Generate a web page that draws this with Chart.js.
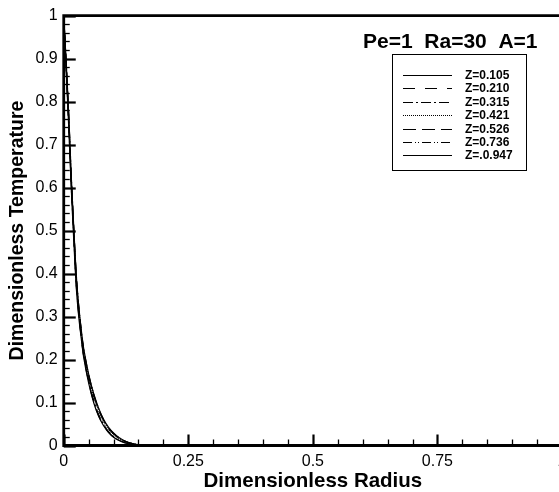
<!DOCTYPE html>
<html>
<head>
<meta charset="utf-8">
<script src="https://cdn.jsdelivr.net/npm/chart.js@4"></script>
<style>
  html, body { margin: 0; padding: 0; background: #fff; overflow: hidden; }
  #wrap { width: 580px; height: 492px; }
</style>
</head>
<body>
<div id="wrap"><canvas id="tempChart"></canvas></div>
<script>
// radius values (x) shared by every curve
const radius = [0, 0.005, 0.01, 0.015, 0.02, 0.025, 0.03, 0.035, 0.04, 0.05, 0.06, 0.07, 0.08, 0.09, 0.10, 0.11, 0.12, 0.13, 0.14, 0.15, 0.16, 0.2, 0.3, 0.4, 0.5, 0.6, 0.7, 0.8, 0.9, 1.0];

// temperature for each Z
const z0105 = [1, 0.87, 0.74, 0.60, 0.48, 0.37, 0.30, 0.25, 0.205, 0.145, 0.100, 0.068, 0.046, 0.030, 0.019, 0.012, 0.007, 0.004, 0.002, 0.001, 0, 0, 0, 0, 0, 0, 0, 0, 0, 0];
const z0210 = [1, 0.87, 0.745, 0.605, 0.485, 0.375, 0.305, 0.253, 0.208, 0.148, 0.102, 0.070, 0.047, 0.031, 0.020, 0.012, 0.007, 0.004, 0.002, 0.001, 0, 0, 0, 0, 0, 0, 0, 0, 0, 0];
const z0315 = [1, 0.875, 0.75, 0.61, 0.49, 0.38, 0.31, 0.256, 0.211, 0.151, 0.105, 0.072, 0.049, 0.032, 0.021, 0.013, 0.008, 0.004, 0.002, 0.001, 0, 0, 0, 0, 0, 0, 0, 0, 0, 0];
const z0421 = [1, 0.88, 0.76, 0.62, 0.50, 0.39, 0.318, 0.264, 0.219, 0.159, 0.114, 0.081, 0.056, 0.038, 0.026, 0.017, 0.011, 0.006, 0.003, 0.001, 0, 0, 0, 0, 0, 0, 0, 0, 0, 0];
const z0526 = [1, 0.885, 0.765, 0.625, 0.505, 0.395, 0.322, 0.267, 0.222, 0.162, 0.117, 0.084, 0.058, 0.040, 0.027, 0.018, 0.011, 0.007, 0.004, 0.002, 0, 0, 0, 0, 0, 0, 0, 0, 0, 0];
const z0736 = [1, 0.89, 0.77, 0.63, 0.51, 0.40, 0.325, 0.27, 0.225, 0.165, 0.120, 0.086, 0.060, 0.041, 0.028, 0.019, 0.012, 0.007, 0.004, 0.002, 0.001, 0, 0, 0, 0, 0, 0, 0, 0, 0];
const z0947 = [1, 0.89, 0.77, 0.63, 0.51, 0.40, 0.326, 0.271, 0.226, 0.166, 0.121, 0.087, 0.061, 0.042, 0.029, 0.019, 0.012, 0.007, 0.004, 0.002, 0.001, 0, 0, 0, 0, 0, 0, 0, 0, 0];

const zLabels = ['Z=0.105', 'Z=0.210', 'Z=0.315', 'Z=0.421', 'Z=0.526', 'Z=0.736', 'Z=.0.947'];
const zSeries = [z0105, z0210, z0315, z0421, z0526, z0736, z0947];
const zDashes = [[], [12, 10], [10, 3, 2, 3], [1, 1], [13, 6], [9, 3, 1, 2, 1, 3], []];

const xTicks = [0, 0.25, 0.5, 0.75, 1];
const plotTitle = 'Pe=1  Ra=30  A=1';
const fontFam = '"Liberation Sans", Arial, sans-serif';

// build datasets from the arrays above
var datasets = zSeries.map((vals, i) => ({
    label: zLabels[i],
    data: radius.map((r, j) => ({ x: r, y: vals[j] })),
    borderColor: '#000',
    borderWidth: 1.2,
    borderDash: zDashes[i],
    pointRadius: 0,
    fill: false,
    tension: 0.3
}));

// draws axis frame, inward ticks, title text and the boxed legend
const framePlugin = {
    id: 'frame',
    afterDraw(chart) {
        const ctx = chart.ctx;
        const xs = chart.scales.x, ys = chart.scales.y;
        const a = chart.chartArea;
        ctx.save();
        ctx.strokeStyle = '#000';

        // x ticks, pointing up
        for (let i = 0; i <= 20; i++) {
            const v = i * 0.05;
            const px = Math.round(xs.getPixelForValue(v)) + 0.5;
            const major = i % 5 === 0;
            ctx.lineWidth = major ? 2.2 : 1.3;
            ctx.beginPath();
            ctx.moveTo(px, a.bottom);
            ctx.lineTo(px, a.bottom - (major ? 11 : 6));
            ctx.stroke();
        }
        // y ticks, pointing right
        for (let i = 0; i <= 50; i++) {
            const v = i * 0.02;
            const py = Math.round(ys.getPixelForValue(v)) + 0.5;
            const major = i % 5 === 0;
            ctx.lineWidth = major ? 2.2 : 1.3;
            ctx.beginPath();
            ctx.moveTo(a.left, py);
            ctx.lineTo(a.left + (major ? 12 : 6), py);
            ctx.stroke();
        }

        // frame
        ctx.lineWidth = 2.8;
        ctx.beginPath();
        ctx.moveTo(a.left, a.top);
        ctx.lineTo(a.right, a.top);
        ctx.lineTo(a.right, a.bottom);
        ctx.lineTo(a.left, a.bottom);
        ctx.closePath();
        ctx.stroke();

        // title text
        ctx.fillStyle = '#000';
        ctx.font = 'bold 21px ' + fontFam;
        ctx.textAlign = 'left';
        ctx.textBaseline = 'middle';
        ctx.fillText(plotTitle, 363, 42);

        // legend box
        ctx.lineWidth = 1;
        ctx.strokeRect(392.5, 54.5, 134, 116);
        ctx.font = 'bold 12px ' + fontFam;
        chart.data.datasets.forEach((ds, i) => {
            const y = Math.round(75 + i * 13.4) + 0.5;
            ctx.setLineDash(ds.borderDash);
            ctx.lineWidth = 1;
            ctx.beginPath();
            ctx.moveTo(403, y);
            ctx.lineTo(452, y);
            ctx.stroke();
            ctx.setLineDash([]);
            ctx.fillText(ds.label, 465, y);
        });
        ctx.restore();
    }
};

var ctx = document.getElementById('tempChart').getContext('2d');
var tempChart = new Chart(ctx, {
    type: 'line',
    data: { datasets: datasets },
    options: {
        responsive: true,
        maintainAspectRatio: false,
        animation: false,
        layout: { padding: { top: 5, right: 18, bottom: 0, left: 8 } },
        plugins: {
            legend: { display: false },
            tooltip: { enabled: false }
        },
        scales: {
            x: {
                type: 'linear',
                min: 0,
                max: 1,
                afterBuildTicks: scale => { scale.ticks = xTicks.map(v => ({ value: v })); },
                grid: { display: false, drawTicks: false },
                border: { display: false },
                ticks: {
                    color: '#000',
                    padding: 8,
                    maxRotation: 0,
                    font: { family: fontFam, size: 16, lineHeight: 1 },
                    callback: v => String(v)
                },
                title: {
                    display: true,
                    text: 'Dimensionless Radius',
                    color: '#000',
                    padding: { top: -6, bottom: 0 },
                    font: { family: fontFam, size: 20.5, weight: 'bold', lineHeight: 1 }
                }
            },
            y: {
                min: 0,
                max: 1,
                ticks: {
                    stepSize: 0.1,
                    color: '#000',
                    padding: 6,
                    font: { family: fontFam, size: 16 },
                    callback: v => String(Math.round(v * 10) / 10)
                },
                grid: { display: false, drawTicks: false },
                border: { display: false },
                title: {
                    display: true,
                    text: 'Dimensionless Temperature',
                    color: '#000',
                    padding: { top: 0, bottom: 2 },
                    font: { family: fontFam, size: 19.5, weight: 'bold', lineHeight: 1 }
                }
            }
        }
    },
    plugins: [framePlugin]
});
</script>
</body>
</html>
